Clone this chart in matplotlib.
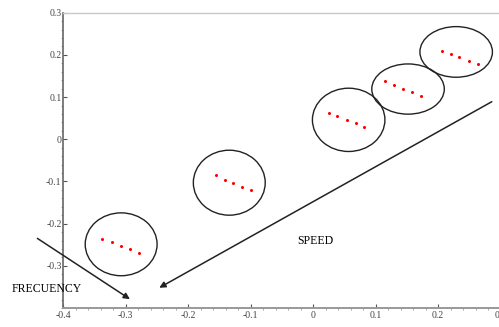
import numpy as np
import matplotlib
matplotlib.use('Agg')
import matplotlib.pyplot as plt
from matplotlib.patches import Ellipse

plt.rcParams['font.family'] = ['Liberation Serif', 'DejaVu Serif']
plt.rcParams['axes.unicode_minus'] = False

# tick values and labels
xticks = [-0.4, -0.3, -0.2, -0.1, 0, 0.1, 0.2, 0.3]
xlabels = ['-0.4', '-0.3', '-0.2', '-0.1', '0', '0.1', '0.2', '0.3']
yticks = [0.3, 0.2, 0.1, 0, -0.1, -0.2, -0.3]
ylabels = ['0.3', '0.2', '0.1', '0', '-0.1', '-0.2', '-0.3']

# ellipses (center x, center y, width, height)
ell_x = [-0.307, -0.134, 0.057, 0.152, 0.229]
ell_y = [-0.249, -0.103, 0.046, 0.119, 0.207]
ell_w = [0.115, 0.115, 0.116, 0.116, 0.116]
ell_h = [0.149, 0.154, 0.150, 0.119, 0.120]

# red points inside each ellipse
pts_x = [
    [-0.337, -0.321, -0.308, -0.293, -0.279],
    [-0.156, -0.141, -0.128, -0.113, -0.099],
    [0.025, 0.039, 0.054, 0.068, 0.082],
    [0.115, 0.130, 0.144, 0.159, 0.173],
    [0.206, 0.221, 0.234, 0.249, 0.264],
]
pts_y = [
    [-0.236, -0.244, -0.252, -0.261, -0.269],
    [-0.085, -0.096, -0.104, -0.112, -0.120],
    [0.062, 0.054, 0.045, 0.038, 0.028],
    [0.137, 0.129, 0.119, 0.111, 0.103],
    [0.210, 0.202, 0.194, 0.186, 0.178],
]

# arrows: (start, end) and labels
freq_start = (-0.441, -0.235)
freq_end = (-0.293, -0.379)
speed_start = (0.286, 0.089)
speed_end = (-0.246, -0.352)
freq_label = (-0.482, -0.355, 'FRECUENCY')
speed_label = (-0.026, -0.242, 'SPEED')

fig = plt.figure(figsize=(4.99, 3.27), dpi=100)
ax = fig.add_axes([0.1263, 0.0581, 0.8768, 0.9031])
ax.set_xlim(-0.4, 0.3)
ax.set_ylim(-0.4, 0.3)

for i in range(len(ell_x)):
    e = Ellipse((ell_x[i], ell_y[i]), ell_w[i], ell_h[i], fill=False,
                edgecolor='#222222', lw=1.0)
    ax.add_patch(e)
    ax.plot(pts_x[i], pts_y[i], 'o', color='red', markersize=2.2,
            markeredgewidth=0)

ax.annotate('', xy=freq_end, xytext=freq_start, annotation_clip=False,
            arrowprops=dict(arrowstyle='-|>', color='#222222', lw=1.1,
                            mutation_scale=9, shrinkA=0, shrinkB=0))
ax.annotate('', xy=speed_end, xytext=speed_start, annotation_clip=False,
            arrowprops=dict(arrowstyle='-|>', color='#222222', lw=1.1,
                            mutation_scale=9, shrinkA=0, shrinkB=0))

ax.text(freq_label[0], freq_label[1], freq_label[2], fontsize=8.5,
        va='center', ha='left', clip_on=False)
ax.text(speed_label[0], speed_label[1], speed_label[2], fontsize=8.5,
        va='center', ha='left')

ax.set_xticks(xticks)
ax.set_xticklabels(xlabels)
ax.set_yticks(yticks)
ax.set_yticklabels(ylabels)
ax.set_xticks(np.arange(-0.4, 0.3, 0.02), minor=True)
ax.set_yticks(np.arange(-0.4, 0.3, 0.02), minor=True)
ax.tick_params(which='major', direction='in', length=3, width=0.8,
               color='#555555', labelsize=7, labelcolor='#444444', pad=2)
ax.tick_params(which='minor', direction='out', length=1.5, width=0.6,
               color='#999999')
ax.tick_params(axis='y', pad=1)

ax.spines['left'].set_color('#666666')
ax.spines['left'].set_linewidth(1.2)
ax.spines['bottom'].set_color('#999999')
ax.spines['bottom'].set_linewidth(1.4)
ax.spines['top'].set_color('#c8c8c8')
ax.spines['top'].set_linewidth(1.0)
ax.spines['right'].set_visible(False)

fig.savefig('out.png', dpi=100)
